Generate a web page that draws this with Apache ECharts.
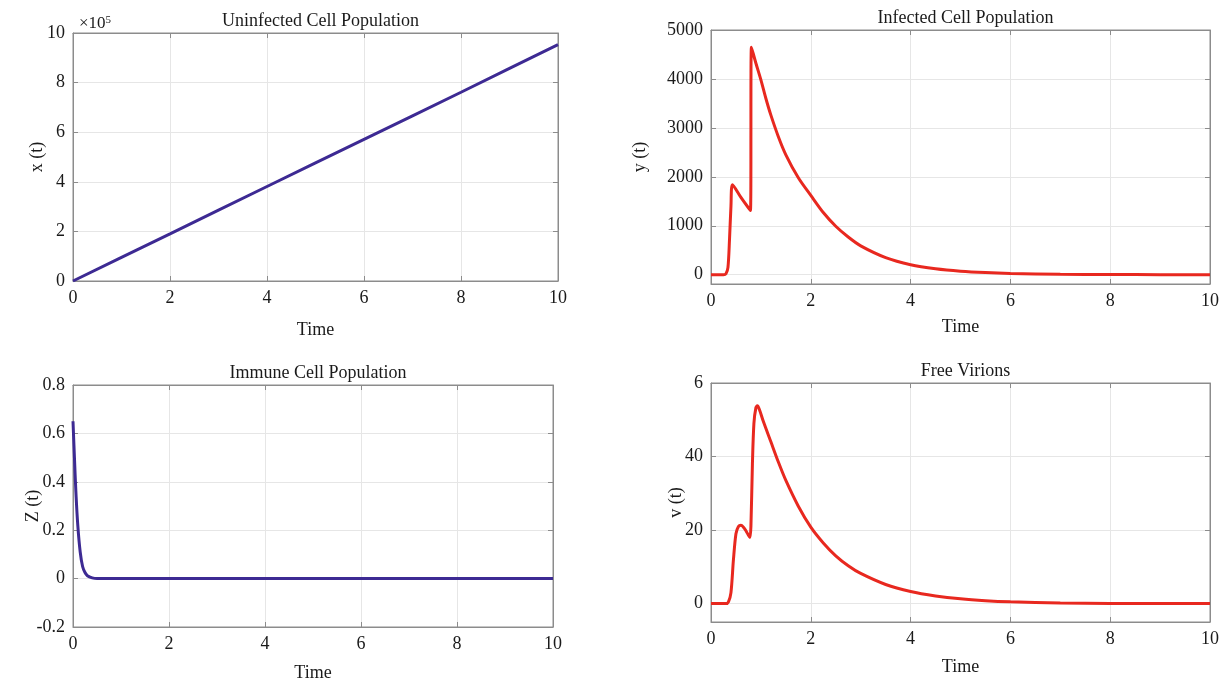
<!DOCTYPE html>
<html>
<head>
<meta charset="utf-8">
<script src="https://cdn.jsdelivr.net/npm/echarts@6/dist/echarts.min.js"></script>
<style>
  html, body { margin: 0; padding: 0; background: #fff; }
  #chart { width: 1226px; height: 687px; }
</style>
</head>
<body>
<div id="chart"></div>
<script>
// uninfected cells x(t), in units of 1e5
const timeX = [0, 1, 2, 3, 4, 5, 6, 7, 8, 9, 10];
const cellsX = [0, 0.95, 1.9, 2.86, 3.81, 4.76, 5.71, 6.66, 7.61, 8.57, 9.53];

// infected cells y(t)
const timeY = [0, 0.25, 0.3, 0.34, 0.37, 0.4, 0.43, 0.6, 0.79, 0.81, 0.9, 1.0, 1.1, 1.2, 1.35, 1.5, 1.75, 2.0, 2.25, 2.5, 2.75, 3.0, 3.5, 4, 4.5, 5, 5.5, 6, 7, 8, 9, 10];
const cellsY = [0, 0, 20, 150, 700, 1400, 1840, 1580, 1310, 4650, 4320, 3980, 3600, 3260, 2820, 2450, 1980, 1620, 1270, 990, 770, 590, 350, 205, 122, 72, 43, 26, 9, 3, 1, 0];

// immune cells Z(t)
const timeZ = [0, 0.03, 0.06, 0.1, 0.15, 0.2, 0.25, 0.3, 0.4, 0.5, 1, 10];
const cellsZ = [0.65, 0.5, 0.36, 0.22, 0.11, 0.05, 0.025, 0.012, 0.003, 0, 0, 0];

// free virions v(t)
const timeV = [0, 0.3, 0.35, 0.4, 0.45, 0.5, 0.55, 0.6, 0.65, 0.7, 0.75, 0.78, 0.8, 0.83, 0.86, 0.9, 0.93, 0.97, 1.05, 1.2, 1.35, 1.5, 1.75, 2.0, 2.25, 2.5, 2.75, 3.0, 3.5, 4, 4.5, 5, 5.5, 6, 7, 8, 9, 10];
const virions = [0, 0, 0.5, 3, 12, 19, 21, 21.3, 20.8, 19.8, 18.6, 18, 21, 38, 49, 53.3, 53.8, 52.8, 49.5, 44, 38.5, 33.5, 26.5, 20.8, 16.5, 13, 10.3, 8.2, 5.2, 3.3, 2.1, 1.3, 0.8, 0.5, 0.2, 0.05, 0, 0];

const FONT = '"Liberation Serif", "DejaVu Serif", serif';
const PURPLE = '#3d2a93';
const RED = '#e8281f';
const AXIS = '#8c8c8c';

const panels = [
  { title: 'Uninfected Cell Population', yName: 'x (t)', grid: { left: 73, top: 33, width: 485, height: 248 },
    yMin: 0, yMax: 10, yInt: 2, yGap: 27, xGap: 40, t: timeX, v: cellsX, color: PURPLE, smooth: false },
  { title: 'Infected Cell Population', yName: 'y (t)', grid: { left: 711, top: 30, width: 499, height: 254 },
    yMin: -190, yMax: 5000, ySplit: 5, yGap: 62, xGap: 34, t: timeY, v: cellsY, color: RED, smooth: 0.3 },
  { title: 'Immune Cell Population', yName: 'Z (t)', grid: { left: 73, top: 385, width: 480, height: 242 },
    yMin: -0.2, yMax: 0.8, yInt: 0.2, yGap: 31, xGap: 37, t: timeZ, v: cellsZ, color: PURPLE, smooth: 0.4 },
  { title: 'Free Virions', yName: 'v (t)', grid: { left: 711, top: 383, width: 499, height: 239 },
    yMin: -5, yMax: 60, ySplit: 3, yGap: 26, xGap: 36, t: timeV, v: virions, color: RED, smooth: 0.3, top6: true }
];

const grids = [], xAxes = [], yAxes = [], series = [], titles = [];

panels.forEach((p, i) => {
  grids.push(Object.assign({ show: true, borderColor: AXIS, borderWidth: 1, containLabel: false }, p.grid));
  const cx = p.grid.left + p.grid.width / 2;
  titles.push({
    text: p.title, left: cx, top: p.grid.top - 26, textAlign: 'center',
    textStyle: { fontFamily: FONT, fontSize: 18, fontWeight: 'normal', color: '#1a1a1a' }
  });
  const common = { gridIndex: i, type: 'value', min: 0, max: 10, interval: 2 };
  // bottom x axis
  xAxes.push(Object.assign({}, common, {
    position: 'bottom',
    name: 'Time', nameLocation: 'middle', nameGap: p.xGap, nameMoveOverlap: false,
    nameTextStyle: { fontFamily: FONT, fontSize: 18, color: '#1a1a1a' },
    axisLine: { show: true, onZero: false, lineStyle: { color: AXIS, width: 1 } },
    axisTick: { show: true, inside: true, length: 5, lineStyle: { color: AXIS } },
    axisLabel: { fontFamily: FONT, fontSize: 18, color: '#1a1a1a', margin: 8 },
    splitLine: { show: true, lineStyle: { color: '#e6e6e6', width: 1 } }
  }));
  // top mirror axis
  xAxes.push(Object.assign({}, common, {
    position: 'top',
    axisLine: { show: true, onZero: false, lineStyle: { color: AXIS, width: 1 } },
    axisTick: { show: true, inside: true, length: 5, lineStyle: { color: AXIS } },
    axisLabel: { show: false }, splitLine: { show: false }
  }));
  const yCommon = { gridIndex: i, type: 'value', min: p.yMin, max: p.yMax };
  if (p.yInt) yCommon.interval = p.yInt; else yCommon.splitNumber = p.ySplit;
  yAxes.push(Object.assign({}, yCommon, {
    position: 'left',
    name: p.yName, nameLocation: 'middle', nameGap: p.yGap, nameRotate: 90, nameMoveOverlap: false,
    nameTextStyle: { fontFamily: FONT, fontSize: 18, color: '#1a1a1a' },
    axisLine: { show: true, onZero: false, lineStyle: { color: AXIS, width: 1 } },
    axisTick: { show: true, inside: true, length: 5, lineStyle: { color: AXIS } },
    axisLabel: {
      fontFamily: FONT, fontSize: 18, color: '#1a1a1a', margin: 8,
      showMinLabel: p.yInt ? true : false,
      formatter: v => (p.top6 && v === 60) ? '6' : String(v)
    },
    splitLine: { show: true, lineStyle: { color: '#e6e6e6', width: 1 } }
  }));
  yAxes.push(Object.assign({}, yCommon, {
    position: 'right',
    axisLine: { show: true, onZero: false, lineStyle: { color: AXIS, width: 1 } },
    axisTick: { show: true, inside: true, length: 5, lineStyle: { color: AXIS } },
    axisLabel: { show: false }, splitLine: { show: false }
  }));
  series.push({
    type: 'line', xAxisIndex: i * 2, yAxisIndex: i * 2,
    data: p.t.map((t, k) => [t, p.v[k]]),
    showSymbol: false, smooth: p.smooth,
    lineStyle: { color: p.color, width: 3 }, itemStyle: { color: p.color },
    clip: true
  });
});

// x10^5 exponent label above first panel
titles.push({
  text: '×10{s|5}', left: 74, top: 10,
  textStyle: {
    fontFamily: FONT, fontSize: 17, fontWeight: 'normal', color: '#1a1a1a',
    rich: { s: { fontFamily: FONT, fontSize: 11, color: '#1a1a1a', verticalAlign: 'top', padding: [0, 0, 6, 0] } }
  }
});

const myChart = echarts.init(document.getElementById('chart'));
myChart.setOption({
  backgroundColor: '#fff',
  animation: false,
  title: titles,
  grid: grids,
  xAxis: xAxes,
  yAxis: yAxes,
  series: series
});
</script>
</body>
</html>
